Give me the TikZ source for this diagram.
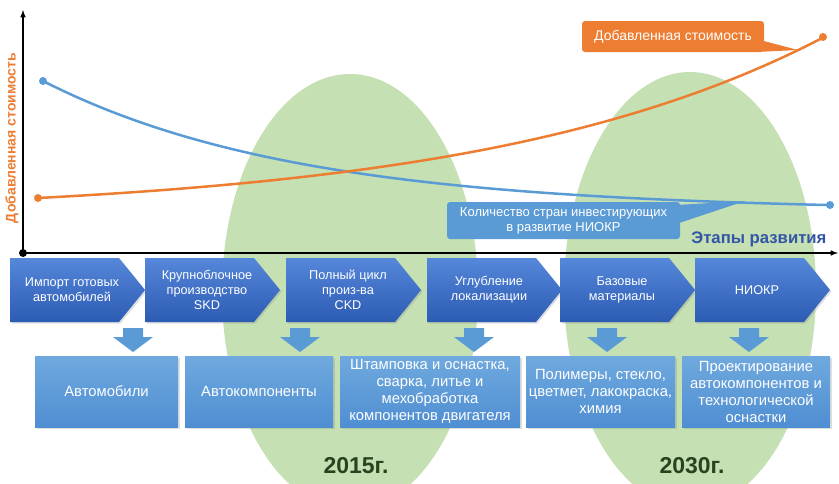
\documentclass[tikz,border=0pt]{standalone}
\usepackage{fontspec}
\setmainfont{Liberation Sans}
\usetikzlibrary{shadows}

\definecolor{valorange}{HTML}{ED7D31}
\definecolor{rdblue}{HTML}{5B9BD5}
\definecolor{stagetop}{HTML}{5587DA}
\definecolor{stagebot}{HTML}{2C5BB3}
\definecolor{outtop}{HTML}{6FA9DE}
\definecolor{outbot}{HTML}{4F8ED2}
\definecolor{periodgreen}{HTML}{C5E0B3}
\definecolor{yeargreen}{HTML}{2B4220}
\definecolor{axisblue}{HTML}{3355A5}

\tikzset{
  stagetext/.style={text=white, align=center, font=\fontsize{12.7}{15}\selectfont},
  outbox/.style={top color=outtop, bottom color=outbot, text=white, align=center,
    minimum height=71pt, inner sep=2pt, font=\fontsize{14.8}{17}\selectfont,
    drop shadow={opacity=0.25, shadow xshift=1.5pt, shadow yshift=-1.5pt}},
  dot/.style={circle, inner sep=0pt, minimum size=8pt},
  yearlabel/.style={text=yeargreen, font=\bfseries\fontsize{23}{23}\selectfont},
}

\begin{document}
\begin{tikzpicture}[x=1pt, y=-1pt, >=latex]
  \useasboundingbox (0,0) rectangle (839,483);

  % two periods in the background
  \begin{scope}
    \clip (0,0) rectangle (839,483);
    \fill[periodgreen] (350,292) ellipse [x radius=128, y radius=218];
    \fill[periodgreen] (690,290) ellipse [x radius=126, y radius=218];
  \end{scope}
  \node[yearlabel] (y2015) at (356,466) {2015г.};
  \node[yearlabel] (y2030) at (692,466) {2030г.};

  % curves
  \draw[rdblue, line width=2.5pt] plot[domain=43:830, samples=80]
    (\x, {211-130*exp(-(\x-43)/255)});
  \draw[valorange, line width=2.5pt] plot[domain=38:823, samples=80]
    (\x, {198-18.1*(exp((\x-38)/343)-1)});
  \node[dot, fill=rdblue] (rdstart) at (43,81) {};
  \node[dot, fill=rdblue] (rdend) at (830,205) {};
  \node[dot, fill=valorange] (valstart) at (38,198) {};
  \node[dot, fill=valorange] (valend) at (823,37) {};

  % axes
  \coordinate (origin) at (23,253);
  \coordinate (yend) at (23,10);
  \coordinate (xend) at (838,253);
  \draw[->, line width=1.5pt] (origin) -- (yend);
  \draw[->, line width=1.5pt] (origin) -- (xend);
  \node[dot, fill=black] at (origin) {};
  \node[rotate=90, text=valorange, font=\bfseries\fontsize{14}{14}\selectfont] (ylab) at (12,138) {Добавленная стоимость};
  \node[anchor=east, text=axisblue, font=\bfseries\fontsize{16.7}{16.7}\selectfont] (xlab) at (830,239) {Этапы развития};

  % callouts
  \coordinate (valtip) at (798,50);
  \fill[valorange] (760,40) -- (valtip) -- (756,52) -- cycle;
  \node[fill=valorange, rounded corners=3pt, text=white, minimum width=182pt, minimum height=31pt,
    font=\fontsize{14}{14}\selectfont] (valcall) at (673,36.5) {Добавленная стоимость};
  \coordinate (rdtip) at (745,201);
  \fill[rdblue] (676,205) -- (rdtip) -- (676,224) -- cycle;
  \node[fill=rdblue, rounded corners=3pt, text=white, align=center, minimum width=233pt, minimum height=37pt,
    font=\fontsize{13}{15}\selectfont] (rdcall) at (563.5,220.5) {Количество стран инвестирующих\\в развитие НИОКР};

  % stages
  \foreach \x/\name/\txt in {10/st1/{Импорт готовых\\автомобилей},
      145/st2/{Крупноблочное\\производство\\SKD},
      286/st3/{Полный цикл\\произ-ва\\CKD},
      427/st4/{Углубление\\локализации},
      560/st5/{Базовые\\материалы},
      695/st6/{НИОКР}}
  {
    \shade[top color=stagetop, bottom color=stagebot,
      drop shadow={opacity=0.25, shadow xshift=1.5pt, shadow yshift=-1.5pt}]
      (\x,258) -- ++(109,0) -- ++(26,32) -- ++(-26,32) -- ++(-109,0) -- cycle;
    \node[stagetext] (\name) at (\x+62,290) {\txt};
  }

  % down arrows
  \foreach \x in {133,300,474,607,749}
    \fill[rdblue] (\x-10,328) -- (\x+10,328) -- (\x+10,337) -- (\x+20,337)
      -- (\x,352) -- (\x-20,337) -- (\x-10,337) -- cycle;

  % results of each stage
  \node[outbox, minimum width=143pt] (out1) at (106.5,391.5) {Автомобили};
  \node[outbox, minimum width=148pt] (out2) at (259,391.5) {Автокомпоненты};
  \node[outbox, minimum width=180pt] (out3) at (430,391.5) {Штамповка и оснастка,\\сварка, литье и\\мехобработка\\компонентов двигателя};
  \node[outbox, minimum width=149pt] (out4) at (600.5,391.5) {Полимеры, стекло,\\цветмет, лакокраска,\\химия};
  \node[outbox, minimum width=148pt] (out5) at (756,391.5) {Проектирование\\автокомпонентов и\\технологической\\оснастки};
\end{tikzpicture}
\end{document}
